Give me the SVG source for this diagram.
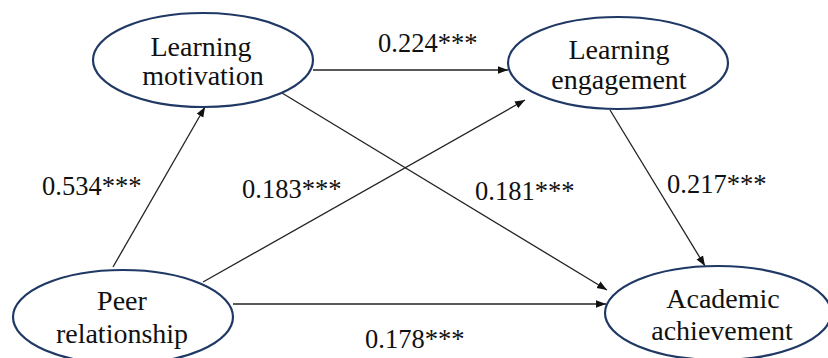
<svg xmlns="http://www.w3.org/2000/svg" width="828" height="358" viewBox="0 0 828 358">
<defs>
<style>
.node ellipse{fill:#fff;stroke:#1F3864;stroke-width:2.2}
.node text{font-family:"Liberation Serif","Times New Roman",serif;font-size:28px;fill:#111;text-anchor:middle}
.edge line{stroke:#222;stroke-width:1.3;marker-end:url(#ah)}
.lbl{font-family:"Liberation Serif","Times New Roman",serif;font-size:26.5px;fill:#111}
</style>
<marker id="ah" viewBox="0 0 10 10" refX="10" refY="5" markerWidth="10" markerHeight="10" markerUnits="userSpaceOnUse" orient="auto">
<path d="M0,1.2 L10,5 L0,8.8 Z" fill="#111"/>
</marker>
</defs>
<rect width="828" height="358" fill="#fff"/>
<g id="connectors" class="edge">
<line x1="313" y1="70" x2="508" y2="70"/>
<line x1="282" y1="93" x2="607" y2="290"/>
<line x1="113" y1="267" x2="205" y2="107"/>
<line x1="203" y1="282" x2="525" y2="100"/>
<line x1="233" y1="304" x2="606" y2="304"/>
<line x1="610" y1="110" x2="705" y2="266"/>
</g>
<g id="labels">
<text class="lbl" x="378" y="52">0.224***</text>
<text class="lbl" x="42" y="195">0.534***</text>
<text class="lbl" x="242" y="198">0.183***</text>
<text class="lbl" x="475" y="200">0.181***</text>
<text class="lbl" x="667" y="193">0.217***</text>
<text class="lbl" x="365" y="348">0.178***</text>
</g>
<g id="learning-motivation" class="node">
<ellipse cx="203" cy="60" rx="110" ry="47"/>
<text x="201" y="56">Learning</text>
<text x="203" y="85">motivation</text>
</g>
<g id="learning-engagement" class="node">
<ellipse cx="618" cy="63" rx="110" ry="46"/>
<text x="619" y="59">Learning</text>
<text x="619" y="89">engagement</text>
</g>
<g id="peer-relationship" class="node">
<ellipse cx="123" cy="317" rx="110" ry="47"/>
<text x="122" y="310">Peer</text>
<text x="122" y="343">relationship</text>
</g>
<g id="academic-achievement" class="node">
<ellipse cx="718" cy="313" rx="113" ry="47"/>
<text x="723" y="308">Academic</text>
<text x="722" y="340">achievement</text>
</g>
</svg>
